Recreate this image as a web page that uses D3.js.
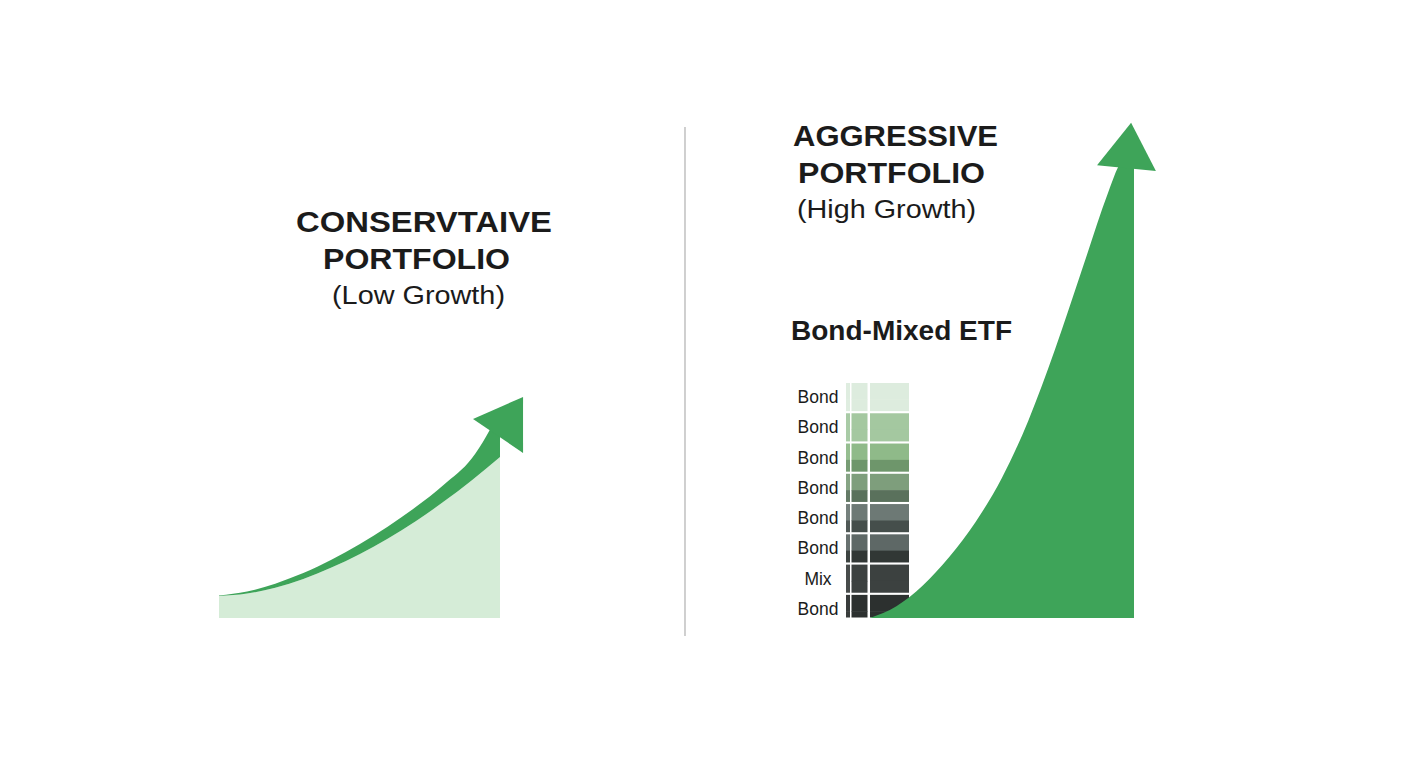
<!DOCTYPE html>
<html>
<head>
<meta charset="utf-8">
<script src="https://cdn.jsdelivr.net/npm/d3@7"></script>
<style>
  html, body { margin: 0; padding: 0; background: #ffffff; }
  svg { display: block; }
</style>
</head>
<body>
<svg id="chart" width="1408" height="768"></svg>
<script>
// ---------------- DATA ----------------
// Conservative portfolio (low growth): time steps and the two edges of the arrow band
const consYears = [0, 1, 2, 3, 4, 5, 6, 7, 8, 9, 10];
const consUpper = [10.2, 12.0, 15.6, 20.4, 26.5, 33.5, 41.5, 50.4, 60.6, 72.6, 94];
const consLower = [10, 11.1, 13.8, 17.7, 22.9, 29, 36, 44, 52.9, 62.6, 73.2];
const consHead  = [[9.04, 90.5], [10.82, 100.5], [10.82, 75]];

// Aggressive portfolio (high growth)
const aggYears  = [0, 1, 2, 3, 4, 5, 6, 7, 8, 9, 9.4, 10];
const aggValues = [0, 2.6, 7.2, 13.5, 21.3, 31.1, 43.8, 59.4, 76.7, 94, 100, 104];
const aggHead   = [[8.6, 100.4], [9.89, 109.8], [10.83, 99.1]];

// Bond-Mixed ETF ladder
const etfLabels    = ["Bond", "Bond", "Bond", "Bond", "Bond", "Bond", "Mix", "Bond"];
const etfTopColors = ["#ddecde", "#a4c8a0", "#8fba89", "#7e9e7c", "#6d7975", "#5e6866", "#3c4140", "#2c302f"];
const etfBotColors = ["#ddecde", "#a4c8a0", "#6e966b", "#5a715c", "#454e4b", "#313735", "#3c4140", "#2c302f"];

// Titles
const leftTitle  = ["CONSERVTAIVE", "PORTFOLIO", "(Low Growth)"];
const rightTitle = ["AGGRESSIVE", "PORTFOLIO", "(High Growth)"];
const etfTitle   = "Bond-Mixed ETF";

// ---------------- STYLE / LAYOUT ----------------
const GREEN = "#3ea459";
const LIGHT = "#d5ecd7";
const INK = "#1b1b1b";
const FONT = "'Liberation Sans', Arial, Helvetica, sans-serif";

const svg = d3.select("#chart");
svg.append("rect").attr("width", 1408).attr("height", 768).attr("fill", "#ffffff");

// ---------------- LEFT PANEL ----------------
const xL = d3.scaleLinear().domain([0, 10]).range([219, 500]);
const yL = d3.scaleLinear().domain([0, 100]).range([618, 398]);
const consData = consYears.map((t, i) => ({ t, up: consUpper[i], lo: consLower[i] }));

svg.append("path")
  .datum(consData)
  .attr("fill", LIGHT)
  .attr("d", d3.area().x(d => xL(d.t)).y0(yL(0)).y1(d => yL(d.lo)).curve(d3.curveMonotoneX));

svg.append("path")
  .datum(consData)
  .attr("fill", GREEN)
  .attr("d", d3.area().x(d => xL(d.t)).y0(d => yL(d.lo)).y1(d => yL(d.up)).curve(d3.curveMonotoneX));

svg.append("path")
  .datum(consHead)
  .attr("fill", GREEN)
  .attr("d", d3.line().x(d => xL(d[0])).y(d => yL(d[1])).curve(d3.curveLinearClosed));

// ---------------- DIVIDER ----------------
svg.append("line")
  .attr("x1", 685).attr("x2", 685).attr("y1", 127).attr("y2", 636)
  .attr("stroke", "#c4c4c4").attr("stroke-width", 1.6);

// ---------------- ETF LADDER ----------------
const rowScale = d3.scaleBand().domain(d3.range(etfLabels.length)).range([383, 623]).paddingInner(0.07).paddingOuter(0);
const ladderBottom = 617.5;
const colEdges = [[846, 850], [851.5, 867.5], [870, 909]];
const splitFrac = 0.58;

etfLabels.forEach((lab, i) => {
  const y0 = rowScale(i);
  const h = Math.min(rowScale.bandwidth(), ladderBottom - y0);
  const hTop = rowScale.bandwidth() * splitFrac;
  colEdges.forEach(([a, b], c) => {
    const light = c === 0 ? 0.06 : 0;
    svg.append("rect").attr("x", a).attr("y", y0).attr("width", b - a).attr("height", hTop + 0.5)
      .attr("fill", d3.interpolateRgb(etfTopColors[i], "#ffffff")(light));
    svg.append("rect").attr("x", a).attr("y", y0 + hTop).attr("width", b - a).attr("height", Math.max(0, h - hTop))
      .attr("fill", d3.interpolateRgb(etfBotColors[i], "#ffffff")(light));
  });
  svg.append("text")
    .attr("x", 818).attr("y", y0 + rowScale.step() / 2 + 5)
    .attr("text-anchor", "middle")
    .attr("font-family", FONT).attr("font-size", 17.5).attr("fill", INK)
    .text(lab);
});

// ---------------- RIGHT PANEL ----------------
const xR = d3.scaleLinear().domain([0, 10]).range([870, 1134]);
const yR = d3.scaleLinear().domain([0, 100]).range([618, 167]);
const aggData = aggYears.map((t, i) => ({ t, v: aggValues[i] }));

svg.append("path")
  .datum(aggData)
  .attr("fill", GREEN)
  .attr("d", d3.area().x(d => xR(d.t)).y0(yR(0)).y1(d => yR(d.v)).curve(d3.curveMonotoneX));

svg.append("path")
  .datum(aggHead)
  .attr("fill", GREEN)
  .attr("d", d3.line().x(d => xR(d[0])).y(d => yR(d[1])).curve(d3.curveLinearClosed));

// ---------------- TEXT ----------------
function addText(str, x, y, size, weight, anchor, len) {
  svg.append("text")
    .attr("x", x).attr("y", y)
    .attr("text-anchor", anchor)
    .attr("font-family", FONT)
    .attr("font-size", size)
    .attr("font-weight", weight)
    .attr("fill", INK)
    .attr("textLength", len)
    .attr("lengthAdjust", "spacingAndGlyphs")
    .text(str);
}

addText(leftTitle[0], 424, 232, 29, 700, "middle", 256);
addText(leftTitle[1], 416.5, 269, 29, 700, "middle", 187);
addText(leftTitle[2], 418.5, 304, 25, 400, "middle", 173);

addText(rightTitle[0], 793, 146, 29, 700, "start", 205);
addText(rightTitle[1], 798, 183, 29, 700, "start", 187);
addText(rightTitle[2], 797, 218, 25, 400, "start", 179);

addText(etfTitle, 791, 340, 27, 700, "start", 221);
</script>
</body>
</html>
